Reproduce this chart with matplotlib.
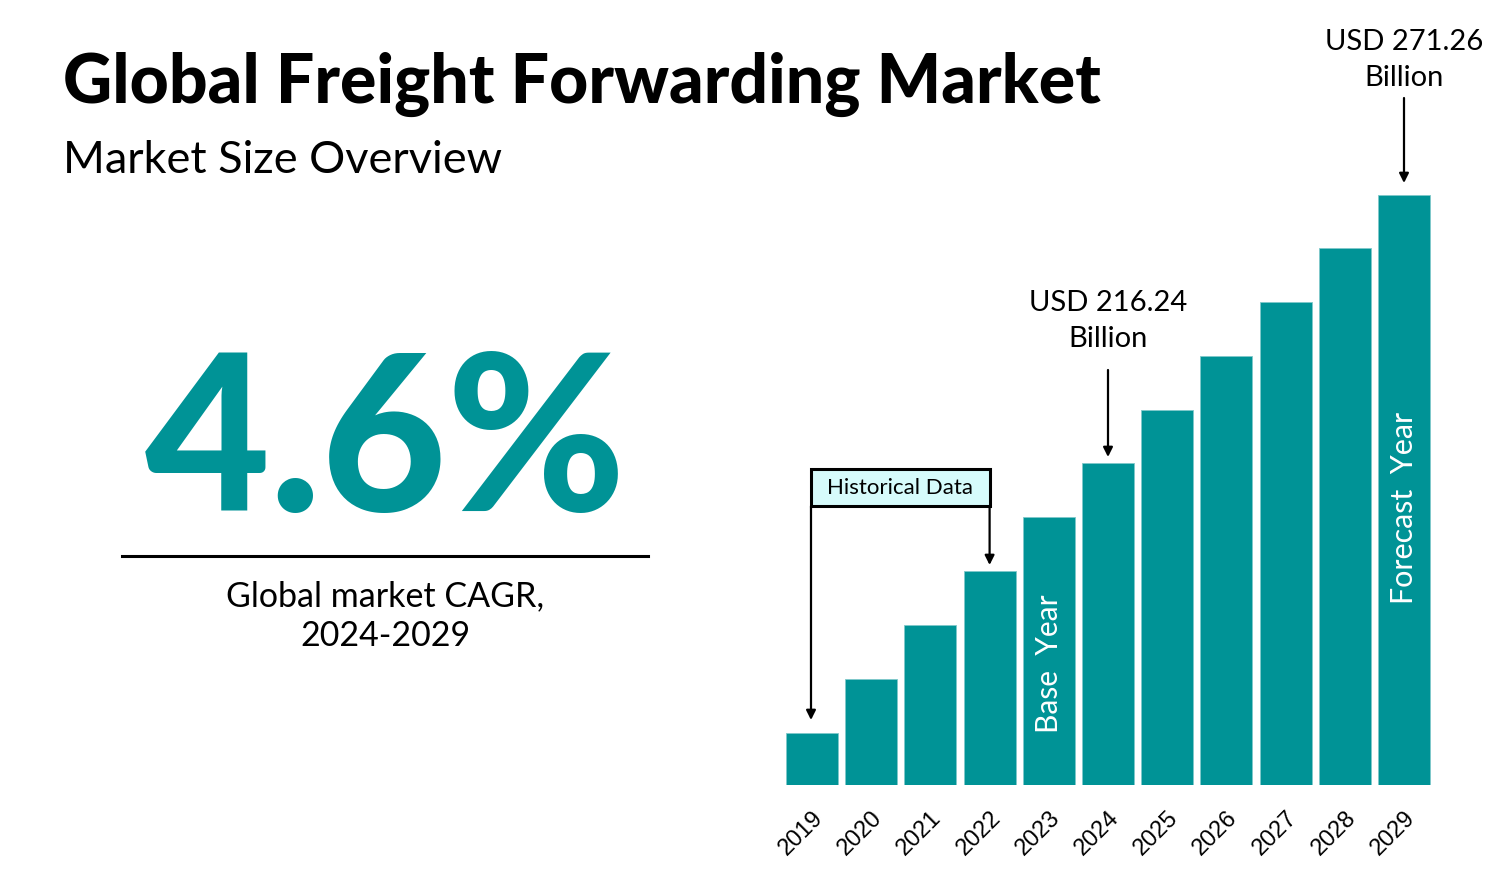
import matplotlib
matplotlib.use("Agg")
import matplotlib.pyplot as plt
from matplotlib.patches import Rectangle

# bar heights as drawn (relative display units)
years = ["2019", "2020", "2021", "2022", "2023", "2024",
         "2025", "2026", "2027", "2028", "2029"]
heights = [52, 106, 160, 214, 268, 322, 375, 429, 483, 537, 590]
cagr = "4.6%"
base_label = "USD 216.24\nBillion"
final_label = "USD 271.26\nBillion"

TEAL = "#009396"
W, H = 1503, 892

plt.rcParams["font.family"] = ["Lato", "DejaVu Sans"]
fig = plt.figure(figsize=(W / 100, H / 100), dpi=100)
fig.patch.set_facecolor("white")

def fx(px):
    return px / W

def fy(py):
    return 1 - py / H

# header
fig.text(fx(63), fy(103), "Global Freight Forwarding Market", fontsize=49,
         fontweight="black", ha="left", va="baseline", color="black")
fig.text(fx(63), fy(173), "Market Size Overview", fontsize=32.5,
         ha="left", va="baseline", color="black")

# big CAGR
fig.text(fx(386), fy(511), cagr, fontsize=156, fontweight="black",
         ha="center", va="baseline", color=TEAL)
fig.add_artist(plt.Line2D([fx(122), fx(648)], [fy(556), fy(556)],
                          color="black", lw=2.2))
fig.text(fx(385), fy(616), "Global market CAGR,\n2024-2029", fontsize=24.5,
         ha="center", va="center", linespacing=1.3, color="black")

# bar chart
ax = fig.add_axes([782.4 / W, 107 / H, 651.2 / W, 620 / H])
x = list(range(len(years)))
ax.bar(x, heights, width=0.88, color=TEAL, edgecolor="#7fc9ca", linewidth=0.6)
ax.set_xlim(-0.5, 10.5)
ax.set_ylim(0, 620)
ax.set_xticks(x)
ax.set_xticklabels(years, rotation=45, ha="right", va="top",
                   rotation_mode="anchor", fontsize=17,
                   family="Liberation Sans")
ax.tick_params(axis="x", length=0, pad=16)
ax.set_yticks([])
for s in ax.spines.values():
    s.set_visible(False)
ax.patch.set_alpha(0)

# bar captions
ax.text(4, 121, "Base  Year", rotation=90, color="white", fontsize=21.5,
        ha="center", va="center")
ax.text(10, 277, "Forecast  Year", rotation=90, color="white", fontsize=22,
        ha="center", va="center")

arrow = dict(arrowstyle="-|>", color="black", lw=1.6, mutation_scale=14,
             shrinkA=0, shrinkB=0)

# value callouts
ax.annotate("", xy=(5, heights[5] + 6), xytext=(5, 415), arrowprops=arrow,
            annotation_clip=False)
ax.text(5, 464, base_label, ha="center", va="center", fontsize=21,
        linespacing=1.45, clip_on=False)
ax.annotate("", xy=(10, heights[10] + 12), xytext=(10, 687), arrowprops=arrow,
            annotation_clip=False)
ax.text(10, 725, final_label, ha="center", va="center", fontsize=21,
        linespacing=1.45, clip_on=False)

# historical data bracket
x0, x1 = -0.017, 3.0
ax.add_patch(Rectangle((x0, 279), x1 - x0, 37, facecolor="#d6fbfb",
                       edgecolor="black", lw=2.2, clip_on=False, zorder=3))
ax.text((x0 + x1) / 2, 297.5, "Historical Data", ha="center", va="center",
        fontsize=16, zorder=4)
ax.annotate("", xy=(x0, heights[0] + 13), xytext=(x0, 279), arrowprops=arrow,
            annotation_clip=False)
ax.annotate("", xy=(x1, heights[3] + 6), xytext=(x1, 279), arrowprops=arrow,
            annotation_clip=False)

fig.savefig("out.png", dpi=100, facecolor="white")
